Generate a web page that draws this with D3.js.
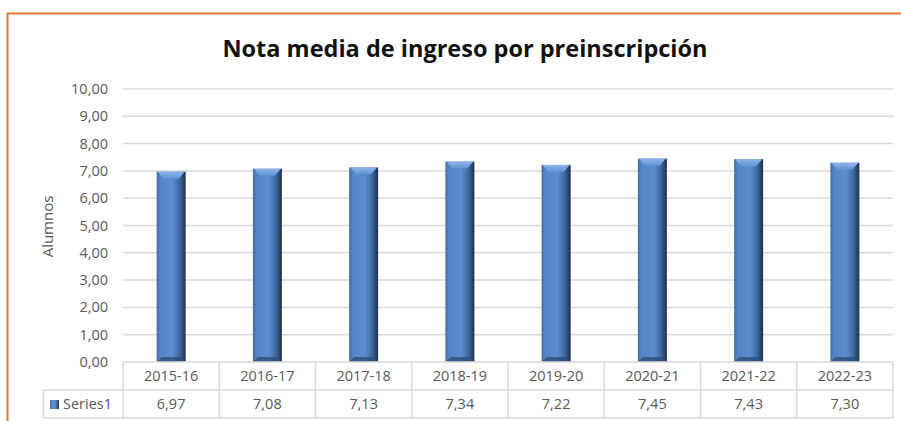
<!DOCTYPE html>
<html>
<head>
<meta charset="utf-8">
<script src="https://cdn.jsdelivr.net/npm/d3@7"></script>
<style>
  body { margin: 0; background: #fff; }
  svg { display: block; font-family: "Open Sans", "Noto Sans", sans-serif; }
</style>
</head>
<body>
<script>
var categories = ["2015-16", "2016-17", "2017-18", "2018-19", "2019-20", "2020-21", "2021-22", "2022-23"];
var values = [6.97, 7.08, 7.13, 7.34, 7.22, 7.45, 7.43, 7.30];
var seriesName = "Series1";
var yTicks = [0, 1, 2, 3, 4, 5, 6, 7, 8, 9, 10];
var chartTitle = "Nota media de ingreso por preinscripción";
var yTitle = "Alumnos";

var fmt = function(v) { return v.toFixed(2).replace(".", ","); };

var W = 901, H = 421;
var plotLeft = 123, plotRight = 893, plotTop = 89, plotBottom = 362;
var rowH = 28;

var svg = d3.select("body").append("svg")
  .attr("width", W)
  .attr("height", H);

var defs = svg.append("defs");
var grad = defs.append("linearGradient").attr("id", "barGrad")
  .attr("x1", "0").attr("x2", "1").attr("y1", "0").attr("y2", "0");
grad.append("stop").attr("offset", "0").attr("stop-color", "#3f6ea8");
grad.append("stop").attr("offset", "0.12").attr("stop-color", "#5286c6");
grad.append("stop").attr("offset", "0.55").attr("stop-color", "#5a8ecf");
grad.append("stop").attr("offset", "0.8").attr("stop-color", "#3d679c");
grad.append("stop").attr("offset", "1").attr("stop-color", "#1c2f4a");

var topGrad = defs.append("linearGradient").attr("id", "topGrad")
  .attr("x1", "0").attr("x2", "0").attr("y1", "0").attr("y2", "1");
topGrad.append("stop").attr("offset", "0").attr("stop-color", "#8db5ea");
topGrad.append("stop").attr("offset", "1").attr("stop-color", "#5f93d3");

// orange frame
svg.append("rect")
  .attr("x", 7.5).attr("y", 13.5)
  .attr("width", W + 10).attr("height", H + 10)
  .attr("fill", "none")
  .attr("stroke", "#e2782a")
  .attr("stroke-width", 2);

svg.append("text")
  .attr("x", 465).attr("y", 57)
  .attr("text-anchor", "middle")
  .attr("font-size", 23.5)
  .attr("font-weight", "bold")
  .attr("fill", "#111")
  .text(chartTitle);

var x = d3.scaleBand().domain(categories).range([plotLeft, plotRight]).paddingInner(0).paddingOuter(0);
var y = d3.scaleLinear().domain([0, 10]).range([plotBottom, plotTop]);

// gridlines
svg.append("g").selectAll("line")
  .data(yTicks.filter(function(d) { return d > 0; }))
  .enter().append("line")
  .attr("x1", plotLeft).attr("x2", plotRight)
  .attr("y1", function(d) { return y(d); })
  .attr("y2", function(d) { return y(d); })
  .attr("stroke", "#d9d9d9")
  .attr("stroke-width", 1.5);

// y axis labels
svg.append("g").selectAll("text")
  .data(yTicks)
  .enter().append("text")
  .attr("x", 108)
  .attr("y", function(d) { return y(d) + 5; })
  .attr("text-anchor", "end")
  .attr("font-size", 14.5)
  .attr("fill", "#595959")
  .text(fmt);

svg.append("text")
  .attr("transform", "translate(53," + (y(5) + 1) + ") rotate(-90)")
  .attr("text-anchor", "middle")
  .attr("font-size", 15)
  .attr("fill", "#595959")
  .text(yTitle);

// bars
var bw = 29;
var bars = svg.append("g").selectAll("g")
  .data(values)
  .enter().append("g")
  .attr("transform", function(d, i) {
    return "translate(" + (x(categories[i]) + x.bandwidth() / 2 - bw / 2) + ",0)";
  });

bars.append("rect")
  .attr("x", 0).attr("width", bw)
  .attr("y", function(d) { return y(d); })
  .attr("height", function(d) { return plotBottom - y(d); })
  .attr("fill", "url(#barGrad)");

// top bevel
bars.append("path")
  .attr("d", function(d) {
    var t = y(d);
    return "M1," + t + " L" + (bw - 1) + "," + t + " L" + (bw - 7) + "," + (t + 7) +
      " L7," + (t + 7) + " Z";
  })
  .attr("fill", "url(#topGrad)");

// bottom dark edge
bars.append("path")
  .attr("d", function() {
    var b = plotBottom;
    return "M0," + b + " L" + bw + "," + b + " L" + (bw - 5) + "," + (b - 5) +
      " L5," + (b - 5) + " Z";
  })
  .attr("fill", "#2e4f7a")
  .attr("opacity", 0.8);

// data table
var tbl = svg.append("g");
var lineColor = "#d9d9d9";
tbl.append("line").attr("x1", plotLeft).attr("x2", plotRight).attr("y1", plotBottom).attr("y2", plotBottom)
  .attr("stroke", lineColor).attr("stroke-width", 1.5);
tbl.append("line").attr("x1", 43).attr("x2", plotRight).attr("y1", plotBottom + rowH).attr("y2", plotBottom + rowH)
  .attr("stroke", lineColor).attr("stroke-width", 1.5);
tbl.append("line").attr("x1", 43).attr("x2", plotRight).attr("y1", plotBottom + 2 * rowH).attr("y2", plotBottom + 2 * rowH)
  .attr("stroke", lineColor).attr("stroke-width", 1.5);
tbl.append("line").attr("x1", 43.5).attr("x2", 43.5).attr("y1", plotBottom + rowH).attr("y2", plotBottom + 2 * rowH)
  .attr("stroke", lineColor).attr("stroke-width", 1.5);
tbl.selectAll("line.v")
  .data(categories.concat(["end"]))
  .enter().append("line")
  .attr("class", "v")
  .attr("x1", function(d, i) { return i < categories.length ? x(d) : plotRight; })
  .attr("x2", function(d, i) { return i < categories.length ? x(d) : plotRight; })
  .attr("y1", plotBottom).attr("y2", plotBottom + 2 * rowH)
  .attr("stroke", lineColor).attr("stroke-width", 1.5);

tbl.selectAll("text.cat")
  .data(categories)
  .enter().append("text")
  .attr("class", "cat")
  .attr("x", function(d) { return x(d) + x.bandwidth() / 2; })
  .attr("y", plotBottom + 19)
  .attr("text-anchor", "middle")
  .attr("font-size", 14.5)
  .attr("fill", "#595959")
  .text(function(d) { return d; });

tbl.selectAll("text.val")
  .data(values)
  .enter().append("text")
  .attr("class", "val")
  .attr("x", function(d, i) { return x(categories[i]) + x.bandwidth() / 2; })
  .attr("y", plotBottom + rowH + 19)
  .attr("text-anchor", "middle")
  .attr("font-size", 14.5)
  .attr("fill", "#595959")
  .text(fmt);

// legend key
tbl.append("rect")
  .attr("x", 50).attr("y", plotBottom + rowH + 10)
  .attr("width", 9).attr("height", 9)
  .attr("fill", "url(#barGrad)");
tbl.append("text")
  .attr("x", 63).attr("y", plotBottom + rowH + 19)
  .attr("font-size", 14.5)
  .attr("fill", "#595959")
  .text(seriesName);
</script>
</body>
</html>
